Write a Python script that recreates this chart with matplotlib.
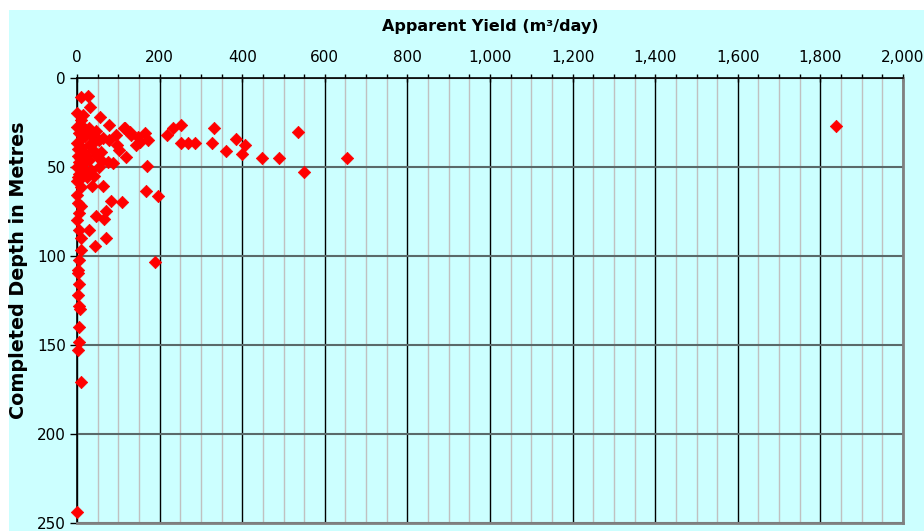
import matplotlib
matplotlib.use("Agg")
import matplotlib.pyplot as plt
from matplotlib.patches import Rectangle
from matplotlib.ticker import MultipleLocator, FuncFormatter

# apparent yield (m3/day) and completed depth (m)
yield_m3 = [9, 27, 31, 1, 15, 56, 78, 116, 128, 165, 173, 152, 217, 233, 253,
            251, 268, 285, 332, 326, 360, 386, 407, 399, 448, 490, 536, 550,
            654, 1838, 170, 167, 197, 82, 109, 70, 47, 65, 30, 70, 44, 188,
            36, 64, 10, 0, 2, 10, 6, 0, 6, 10, 10, 6, 2, 2, 4, 2, 4, 7, 6, 6,
            2, 10, 0,
            94, 102, 119, 114, 78, 54, 74, 54, 34, 30, 22, 6, 0, 0, 10, 22, 38,
            22, 58, 86, 131, 147, 143, 98, 2,
            5, 12, 3, 15, 8, 0, 14, 5, 28, 42, 18, 35, 25, 8, 48, 62, 45, 20,
            10, 2, 60, 40, 0, 12, 30]
depth_m = [10.7, 10.1, 16.6, 19.7, 21.0, 22.2, 26.7, 28.4, 30.3, 31.2, 35.0,
           36.0, 32.2, 28.4, 26.6, 36.5, 36.5, 36.5, 28.4, 36.5, 41.0, 34.6,
           37.8, 42.9, 45.3, 45.3, 30.3, 53.1, 45.3, 27.1, 49.6, 63.5, 66.3,
           69.5, 70.0, 74.7, 77.7, 79.5, 85.6, 89.9, 94.4, 103.7, 60.8, 60.8,
           61.2, 65.9, 70.6, 72.1, 75.8, 79.9, 85.6, 90.2, 96.8, 102.4, 108.0,
           109.9, 115.9, 122.1, 128.3, 130.1, 140.2, 148.3, 153.0, 170.8, 243.8,
           32.2, 40.6, 44.4, 28.4, 35.0, 35.0, 47.2, 50.0, 32.2, 46.2, 53.7,
           47.2, 36.9, 27.5, 23.8, 29.4, 40.6, 43.4, 41.6, 48.1, 32.2, 33.1,
           37.8, 37.8, 55.6,
           31, 34, 40, 42, 45, 50, 51, 54, 38, 36, 48, 52, 56, 57, 44, 34, 30,
           33, 39, 44, 47, 55, 58, 27, 28]

bg = "#CCFFFF"

fig = plt.figure(figsize=(9.24, 5.31), dpi=100)
fig.patches.append(Rectangle((9 / 924, 0), 1, 1 - 10 / 531, transform=fig.transFigure,
                             facecolor=bg, edgecolor="none", zorder=-10))

ax = fig.add_axes([77 / 924, 1 - 522.7 / 531, 826 / 924, 445 / 531])
ax.set_facecolor(bg)

ax.set_xlim(0, 2000)
ax.set_ylim(250, 0)

ax.xaxis.tick_top()
ax.xaxis.set_major_locator(MultipleLocator(200))
ax.xaxis.set_minor_locator(MultipleLocator(50))
ax.yaxis.set_major_locator(MultipleLocator(50))
ax.xaxis.set_major_formatter(FuncFormatter(lambda v, p: f"{int(v):,}"))

ax.grid(True, axis="x", which="minor", color="#C0C0C0", lw=1, zorder=0)
ax.grid(True, axis="x", which="major", color="black", lw=1, zorder=0)
ax.grid(True, axis="y", which="major", color="#5a6a6a", lw=1.5, zorder=0)
ax.set_axisbelow(True)

for s in ["right", "bottom"]:
    ax.spines[s].set_color("#808080")
    ax.spines[s].set_linewidth(2)
for s in ["left", "top"]:
    ax.spines[s].set_color("black")
    ax.spines[s].set_linewidth(1.2)

ax.tick_params(axis="x", which="major", direction="inout", length=6, width=1,
               labelsize=11, pad=6)
ax.tick_params(axis="x", which="minor", direction="out", length=3, width=1)
ax.tick_params(axis="y", which="major", direction="out", length=5, width=1,
               labelsize=11, pad=3)

ax.scatter(yield_m3, depth_m, marker="D", s=40, c="#FF0000", edgecolors="#FF0000",
           linewidths=0.5, zorder=3, clip_on=False)

fig.text(490 / 924, 1 - 27 / 531, "Apparent Yield (m\u00b3/day)", fontsize=11.5,
         fontweight="bold", ha="center", va="center")
fig.text(19 / 924, 1 - 270 / 531, "Completed Depth in Metres", rotation=90,
         fontsize=13.8, fontweight="bold", ha="center", va="center")

fig.savefig("out.png", dpi=100)
